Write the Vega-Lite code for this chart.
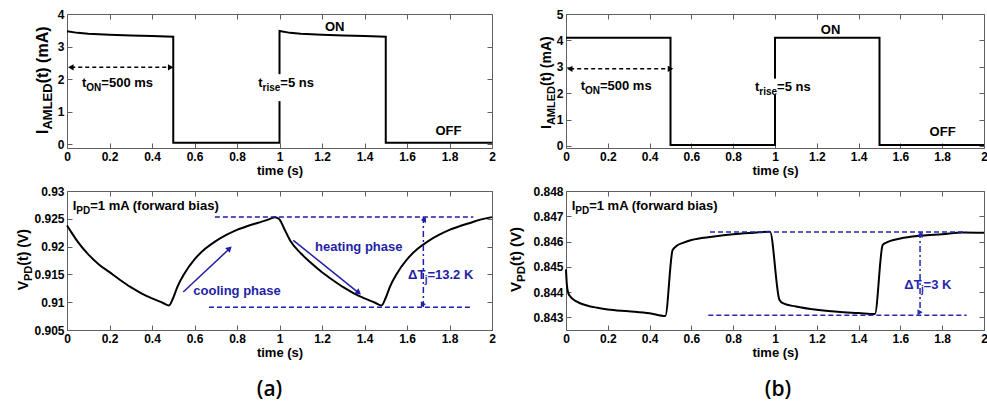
{
  "$schema": "https://vega.github.io/schema/vega-lite/v6.json",
  "background": "white",
  "padding": {"left": 16, "top": 7, "right": 0, "bottom": 0},
  "config": {
    "font": "Liberation Sans",
    "view": {"stroke": "#606060", "strokeWidth": 1},
    "axis": {"grid": false, "domain": false, "tickColor": "#606060", "tickSize": -5, "tickWidth": 1,
      "labelFont": "Liberation Sans", "labelFontSize": 12, "labelFontWeight": "bold", "labelColor": "black",
      "labelPadding": 8, "labelFlush": false, "labelOverlap": false,
      "titleFont": "Liberation Sans", "titleFontSize": 13, "titleFontWeight": "bold", "titleColor": "black", "titlePadding": 2, "format": "~g"}
  },
  "spacing": 11,
  "hconcat": [
    {
      "spacing": 6,
      "vconcat": [
        {
          "width": 425, "height": 134,
          "layer": [
            {"data": {"values": [
              {"k":0,"t":0,"i":3.47},{"k":1,"t":0.05,"i":3.42},{"k":2,"t":0.1,"i":3.39},{"k":3,"t":0.2,"i":3.36},{"k":4,"t":0.3,"i":3.34},{"k":5,"t":0.4,"i":3.32},{"k":6,"t":0.5,"i":3.3},{"k":7,"t":0.5,"i":0.04},{"k":8,"t":1.0,"i":0.04},{"k":9,"t":1.0,"i":3.48},{"k":10,"t":1.05,"i":3.42},{"k":11,"t":1.1,"i":3.39},{"k":12,"t":1.2,"i":3.36},{"k":13,"t":1.3,"i":3.34},{"k":14,"t":1.4,"i":3.32},{"k":15,"t":1.5,"i":3.3},{"k":16,"t":1.5,"i":0.04},{"k":17,"t":2.0,"i":0.04}]},
             "mark": {"type": "line", "color": "black", "strokeWidth": 2},
             "encoding": {
               "x": {"field": "t", "type": "quantitative", "scale": {"domain": [0, 2], "nice": false, "zero": false}, "axis": {"orient": "bottom", "values": [0,0.2,0.4,0.6,0.8,1,1.2,1.4,1.6,1.8,2], "title": "time (s)"}},
               "y": {"field": "i", "type": "quantitative", "scale": {"domain": [-0.12, 4], "nice": false, "zero": false}, "axis": {"orient": "left", "values": [0,1,2,3,4], "title": null}},
               "order": {"field": "k", "type": "quantitative"}
             }},
            {"data": {"values": [{"x": 0.99, "x2": 1.01, "y": 1.32, "y2": 2.15}]},
             "mark": {"type": "rect", "color": "white", "opacity": 1},
             "encoding": {"x": {"field": "x", "type": "quantitative", "axis": null}, "x2": {"field": "x2"}, "y": {"field": "y", "type": "quantitative", "axis": null}, "y2": {"field": "y2"}}},
            {"data": {"values": [{"x": 0.02, "x2": 0.49, "y": 2.36}]},
             "mark": {"type": "rule", "color": "black", "strokeWidth": 1.5, "strokeDash": [4, 3]},
             "encoding": {"x": {"field": "x", "type": "quantitative", "axis": null}, "x2": {"field": "x2"}, "y": {"field": "y", "type": "quantitative", "axis": null}}},
            {"data": {"values": [{"x": 0.018, "y": 2.36, "end": "start"}, {"x": 0.488, "y": 2.36, "end": "end"}]},
             "mark": {"type": "point", "filled": true, "color": "black", "size": 40, "opacity": 1},
             "encoding": {"x": {"field": "x", "type": "quantitative", "axis": null}, "y": {"field": "y", "type": "quantitative", "axis": null},
               "shape": {"field": "end", "type": "nominal", "scale": {"domain": ["start", "end"], "range": ["triangle-left", "triangle-right"]}, "legend": null}}},
            {"data": {"values": [{"x": 0.0706, "y": 1.75, "label": "t"}, {"x": 0.1616, "y": 1.75, "label": "=500 ms"}, {"x": 0.9, "y": 1.75, "label": "t"}, {"x": 1.004, "y": 1.75, "label": "=5 ns"}]},
             "mark": {"type": "text", "align": "left", "baseline": "alphabetic", "fontSize": 13, "fontWeight": "bold", "color": "black"},
             "encoding": {"x": {"field": "x", "type": "quantitative", "axis": {"orient": "top", "values": [0,0.2,0.4,0.6,0.8,1,1.2,1.4,1.6,1.8,2], "labels": false, "title": null}},
               "y": {"field": "y", "type": "quantitative", "axis": {"orient": "right", "values": [0,1,2,3,4], "labels": false, "title": null}},
               "text": {"field": "label", "type": "nominal"}}},
            {"data": {"values": [{"x": 0.091, "y": 1.75, "label": "ON"}, {"x": 0.9204, "y": 1.75, "label": "rise"}]},
             "mark": {"type": "text", "align": "left", "baseline": "alphabetic", "fontSize": 10, "fontWeight": "bold", "color": "black", "dy": 4},
             "encoding": {"x": {"field": "x", "type": "quantitative", "axis": null}, "y": {"field": "y", "type": "quantitative", "axis": null}, "text": {"field": "label", "type": "nominal"}}},
            {"data": {"values": [{"x": 1.26, "y": 3.61, "label": "ON"}, {"x": 1.795, "y": 0.41, "label": "OFF"}]},
             "mark": {"type": "text", "align": "center", "baseline": "middle", "fontSize": 13, "fontWeight": "bold", "color": "black"},
             "encoding": {"x": {"field": "x", "type": "quantitative", "axis": null}, "y": {"field": "y", "type": "quantitative", "axis": null}, "text": {"field": "label", "type": "nominal"}}},
            {"data": {"values": [{"x": -0.0894, "y": 0.31, "label": "I"}, {"x": -0.0894, "y": 1.868, "label": "(t) (mA)"}]},
             "mark": {"type": "text", "align": "left", "baseline": "alphabetic", "angle": 270, "fontSize": 16, "fontWeight": "bold", "color": "black"},
             "encoding": {"x": {"field": "x", "type": "quantitative", "axis": null}, "y": {"field": "y", "type": "quantitative", "axis": null}, "text": {"field": "label", "type": "nominal"}}},
            {"data": {"values": [{"x": -0.0894, "y": 0.447, "label": "AMLED"}]},
             "mark": {"type": "text", "align": "left", "baseline": "alphabetic", "angle": 270, "fontSize": 13, "fontWeight": "bold", "color": "black", "dy": 4},
             "encoding": {"x": {"field": "x", "type": "quantitative", "axis": null}, "y": {"field": "y", "type": "quantitative", "axis": null}, "text": {"field": "label", "type": "nominal"}}}
          ],
          "resolve": {"axis": {"x": "independent", "y": "independent"}}
        },
        {
          "width": 425, "height": 139,
          "title": {"text": "(a)", "orient": "bottom", "anchor": "middle", "frame": "group", "font": "Open Sans", "fontSize": 21, "fontWeight": 600, "color": "black", "offset": 20, "dx": -10},
          "layer": [
            {"data": {"values": [
              {"t":0,"v":0.9238},{"t":0.02,"v":0.9226},{"t":0.05,"v":0.9209},{"t":0.1,"v":0.9186},{"t":0.15,"v":0.9168},{"t":0.2,"v":0.9154},{"t":0.25,"v":0.914},{"t":0.3,"v":0.9127},{"t":0.35,"v":0.9116},{"t":0.4,"v":0.9107},{"t":0.45,"v":0.9099},{"t":0.48,"v":0.9094},
              {"t":0.5,"v":0.9108},{"t":0.52,"v":0.9128},{"t":0.55,"v":0.915},{"t":0.6,"v":0.9177},{"t":0.65,"v":0.9196},{"t":0.7,"v":0.921},{"t":0.75,"v":0.9221},{"t":0.8,"v":0.923},{"t":0.85,"v":0.9237},{"t":0.9,"v":0.9243},{"t":0.95,"v":0.9249},{"t":0.98,"v":0.9253},
              {"t":1.0,"v":0.9249},{"t":1.02,"v":0.9234},{"t":1.05,"v":0.9211},{"t":1.1,"v":0.9188},{"t":1.15,"v":0.917},{"t":1.2,"v":0.9154},{"t":1.25,"v":0.914},{"t":1.3,"v":0.9127},{"t":1.35,"v":0.9116},{"t":1.4,"v":0.9107},{"t":1.45,"v":0.9099},{"t":1.48,"v":0.9094},
              {"t":1.5,"v":0.9108},{"t":1.52,"v":0.9128},{"t":1.55,"v":0.915},{"t":1.6,"v":0.9177},{"t":1.65,"v":0.9196},{"t":1.7,"v":0.921},{"t":1.75,"v":0.9221},{"t":1.8,"v":0.923},{"t":1.85,"v":0.9237},{"t":1.9,"v":0.9243},{"t":1.95,"v":0.9249},{"t":2.0,"v":0.9253}]},
             "mark": {"type": "line", "color": "black", "strokeWidth": 2, "interpolate": "monotone"},
             "encoding": {
               "x": {"field": "t", "type": "quantitative", "scale": {"domain": [0, 2], "nice": false, "zero": false}, "axis": {"orient": "bottom", "values": [0,0.2,0.4,0.6,0.8,1,1.2,1.4,1.6,1.8,2], "title": "time (s)"}},
               "y": {"field": "v", "type": "quantitative", "scale": {"domain": [0.905, 0.93], "nice": false, "zero": false}, "axis": {"orient": "left", "values": [0.905,0.91,0.915,0.92,0.925,0.93], "title": null}}
             }},
            {"data": {"values": [{"x": 0.696, "x2": 1.912, "y": 0.92532}, {"x": 0.668, "x2": 1.896, "y": 0.90908}]},
             "mark": {"type": "rule", "color": "#1f1fa6", "strokeWidth": 1.5, "strokeDash": [5, 3]},
             "encoding": {"x": {"field": "x", "type": "quantitative", "axis": null}, "x2": {"field": "x2"}, "y": {"field": "y", "type": "quantitative", "axis": null}}},
            {"data": {"values": [{"x": 1.677, "y": 0.92532, "y2": 0.90908}]},
             "mark": {"type": "rule", "color": "#1f1fa6", "strokeWidth": 1.5, "strokeDash": [6, 3, 2, 3]},
             "encoding": {"x": {"field": "x", "type": "quantitative", "axis": null}, "y": {"field": "y", "type": "quantitative", "axis": null}, "y2": {"field": "y2"}}},
            {"data": {"values": [{"x": 1.677, "y": 0.92478, "end": "top"}, {"x": 1.677, "y": 0.90962, "end": "bottom"}]},
             "mark": {"type": "point", "filled": true, "color": "#1f1fa6", "size": 35, "opacity": 1},
             "encoding": {"x": {"field": "x", "type": "quantitative", "axis": null}, "y": {"field": "y", "type": "quantitative", "axis": null},
               "shape": {"field": "end", "type": "nominal", "scale": {"domain": ["top", "bottom"], "range": ["triangle-up", "triangle-down"]}, "legend": null}}},
            {"data": {"values": [{"x": 0.547, "y": 0.91183, "x2": 0.768, "y2": 0.91975}, {"x": 1.065, "y": 0.92113, "x2": 1.377, "y2": 0.91155}]},
             "mark": {"type": "rule", "color": "#1f1fa6", "strokeWidth": 1.5},
             "encoding": {"x": {"field": "x", "type": "quantitative", "axis": null}, "y": {"field": "y", "type": "quantitative", "axis": null}, "x2": {"field": "x2"}, "y2": {"field": "y2"}}},
            {"data": {"values": [{"x": 0.765, "y": 0.91968}]},
             "mark": {"type": "point", "shape": "triangle-up", "angle": 46.6, "filled": true, "color": "#1f1fa6", "size": 45, "opacity": 1},
             "encoding": {"x": {"field": "x", "type": "quantitative", "axis": null}, "y": {"field": "y", "type": "quantitative", "axis": null}}},
            {"data": {"values": [{"x": 1.3727, "y": 0.91169}]},
             "mark": {"type": "point", "shape": "triangle-up", "angle": 128.8, "filled": true, "color": "#1f1fa6", "size": 45, "opacity": 1},
             "encoding": {"x": {"field": "x", "type": "quantitative", "axis": null}, "y": {"field": "y", "type": "quantitative", "axis": null}}},
            {"data": {"values": [{"x": 1.373, "y": 0.9199, "label": "heating phase"}, {"x": 0.8, "y": 0.9121, "label": "cooling phase"}]},
             "mark": {"type": "text", "align": "center", "baseline": "middle", "fontSize": 13, "fontWeight": "bold", "color": "#1f1fa6"},
             "encoding": {"x": {"field": "x", "type": "quantitative", "axis": null}, "y": {"field": "y", "type": "quantitative", "axis": null}, "text": {"field": "label", "type": "nominal"}}},
            {"data": {"values": [{"x": 1.605, "y": 0.91412, "label": "ΔT"}, {"x": 1.696, "y": 0.91412, "label": "=13.2 K"}]},
             "mark": {"type": "text", "align": "left", "baseline": "alphabetic", "fontSize": 13, "fontWeight": "bold", "color": "#1f1fa6"},
             "encoding": {"x": {"field": "x", "type": "quantitative", "axis": null}, "y": {"field": "y", "type": "quantitative", "axis": null}, "text": {"field": "label", "type": "nominal"}}},
            {"data": {"values": [{"x": 1.683, "y": 0.91412, "label": "j"}]},
             "mark": {"type": "text", "align": "left", "baseline": "alphabetic", "fontSize": 10, "fontWeight": "bold", "color": "#1f1fa6", "dy": 4},
             "encoding": {"x": {"field": "x", "type": "quantitative", "axis": null}, "y": {"field": "y", "type": "quantitative", "axis": null}, "text": {"field": "label", "type": "nominal"}}},
            {"data": {"values": [{"x": 0.027, "y": 0.92653, "label": "I"}, {"x": 0.1094, "y": 0.92653, "label": "=1 mA (forward bias)"}]},
             "mark": {"type": "text", "align": "left", "baseline": "alphabetic", "fontSize": 13, "fontWeight": "bold", "color": "black"},
             "encoding": {"x": {"field": "x", "type": "quantitative", "axis": {"orient": "top", "values": [0,0.2,0.4,0.6,0.8,1,1.2,1.4,1.6,1.8,2], "labels": false, "title": null}},
               "y": {"field": "y", "type": "quantitative", "axis": {"orient": "right", "values": [0.905,0.91,0.915,0.92,0.925,0.93], "labels": false, "title": null}},
               "text": {"field": "label", "type": "nominal"}}},
            {"data": {"values": [{"x": 0.044, "y": 0.92653, "label": "PD"}]},
             "mark": {"type": "text", "align": "left", "baseline": "alphabetic", "fontSize": 10, "fontWeight": "bold", "color": "black", "dy": 4},
             "encoding": {"x": {"field": "x", "type": "quantitative", "axis": null}, "y": {"field": "y", "type": "quantitative", "axis": null}, "text": {"field": "label", "type": "nominal"}}},
            {"data": {"values": [{"x": -0.185, "y": 0.91214, "label": "V"}, {"x": -0.185, "y": 0.91657, "label": "(t) (V)"}]},
             "mark": {"type": "text", "align": "left", "baseline": "alphabetic", "angle": 270, "fontSize": 14, "fontWeight": "bold", "color": "black"},
             "encoding": {"x": {"field": "x", "type": "quantitative", "axis": null}, "y": {"field": "y", "type": "quantitative", "axis": null}, "text": {"field": "label", "type": "nominal"}}},
            {"data": {"values": [{"x": -0.185, "y": 0.91381, "label": "PD"}]},
             "mark": {"type": "text", "align": "left", "baseline": "alphabetic", "angle": 270, "fontSize": 11, "fontWeight": "bold", "color": "black", "dy": 4},
             "encoding": {"x": {"field": "x", "type": "quantitative", "axis": null}, "y": {"field": "y", "type": "quantitative", "axis": null}, "text": {"field": "label", "type": "nominal"}}}
          ],
          "resolve": {"axis": {"x": "independent", "y": "independent"}}
        }
      ]
    },
    {
      "spacing": 6,
      "vconcat": [
        {
          "width": 418, "height": 134,
          "layer": [
            {"data": {"values": [
              {"k":0,"t":0,"i":4.1},{"k":1,"t":0.5,"i":4.1},{"k":2,"t":0.5,"i":0.03},{"k":3,"t":1.0,"i":0.03},{"k":4,"t":1.0,"i":4.1},{"k":5,"t":1.5,"i":4.1},{"k":6,"t":1.5,"i":0.03},{"k":7,"t":2.0,"i":0.03}]},
             "mark": {"type": "line", "color": "black", "strokeWidth": 2},
             "encoding": {
               "x": {"field": "t", "type": "quantitative", "scale": {"domain": [0, 2], "nice": false, "zero": false}, "axis": {"orient": "bottom", "values": [0,0.2,0.4,0.6,0.8,1,1.2,1.4,1.6,1.8,2], "title": "time (s)"}},
               "y": {"field": "i", "type": "quantitative", "scale": {"domain": [-0.08, 5], "nice": false, "zero": false}, "axis": {"orient": "left", "values": [0,1,2,3,4,5], "title": null}},
               "order": {"field": "k", "type": "quantitative"}
             }},
            {"data": {"values": [{"x": 0.99, "x2": 1.01, "y": 1.95, "y2": 2.55}]},
             "mark": {"type": "rect", "color": "white", "opacity": 1},
             "encoding": {"x": {"field": "x", "type": "quantitative", "axis": null}, "x2": {"field": "x2"}, "y": {"field": "y", "type": "quantitative", "axis": null}, "y2": {"field": "y2"}}},
            {"data": {"values": [{"x": 0.02, "x2": 0.5, "y": 2.92}]},
             "mark": {"type": "rule", "color": "black", "strokeWidth": 1.5, "strokeDash": [4, 3]},
             "encoding": {"x": {"field": "x", "type": "quantitative", "axis": null}, "x2": {"field": "x2"}, "y": {"field": "y", "type": "quantitative", "axis": null}}},
            {"data": {"values": [{"x": 0.018, "y": 2.92, "end": "start"}, {"x": 0.5, "y": 2.92, "end": "end"}]},
             "mark": {"type": "point", "filled": true, "color": "black", "size": 40, "opacity": 1},
             "encoding": {"x": {"field": "x", "type": "quantitative", "axis": null}, "y": {"field": "y", "type": "quantitative", "axis": null},
               "shape": {"field": "end", "type": "nominal", "scale": {"domain": ["start", "end"], "range": ["triangle-left", "triangle-right"]}, "legend": null}}},
            {"data": {"values": [{"x": 0.07, "y": 2.12, "label": "t"}, {"x": 0.1625, "y": 2.12, "label": "=500 ms"}, {"x": 0.904, "y": 2.09, "label": "t"}, {"x": 1.0099, "y": 2.09, "label": "=5 ns"}]},
             "mark": {"type": "text", "align": "left", "baseline": "alphabetic", "fontSize": 13, "fontWeight": "bold", "color": "black"},
             "encoding": {"x": {"field": "x", "type": "quantitative", "axis": {"orient": "top", "values": [0,0.2,0.4,0.6,0.8,1,1.2,1.4,1.6,1.8,2], "labels": false, "title": null}},
               "y": {"field": "y", "type": "quantitative", "axis": {"orient": "right", "values": [0,1,2,3,4,5], "labels": false, "title": null}},
               "text": {"field": "label", "type": "nominal"}}},
            {"data": {"values": [{"x": 0.0907, "y": 2.12, "label": "ON"}, {"x": 0.9247, "y": 2.09, "label": "rise"}]},
             "mark": {"type": "text", "align": "left", "baseline": "alphabetic", "fontSize": 10, "fontWeight": "bold", "color": "black", "dy": 4},
             "encoding": {"x": {"field": "x", "type": "quantitative", "axis": null}, "y": {"field": "y", "type": "quantitative", "axis": null}, "text": {"field": "label", "type": "nominal"}}},
            {"data": {"values": [{"x": 1.266, "y": 4.4, "label": "ON"}, {"x": 1.802, "y": 0.52, "label": "OFF"}]},
             "mark": {"type": "text", "align": "center", "baseline": "middle", "fontSize": 13, "fontWeight": "bold", "color": "black"},
             "encoding": {"x": {"field": "x", "type": "quantitative", "axis": null}, "y": {"field": "y", "type": "quantitative", "axis": null}, "text": {"field": "label", "type": "nominal"}}},
            {"data": {"values": [{"x": -0.072, "y": 0.64, "label": "I"}, {"x": -0.072, "y": 2.27, "label": "(t) (mA)"}]},
             "mark": {"type": "text", "align": "left", "baseline": "alphabetic", "angle": 270, "fontSize": 14, "fontWeight": "bold", "color": "black"},
             "encoding": {"x": {"field": "x", "type": "quantitative", "axis": null}, "y": {"field": "y", "type": "quantitative", "axis": null}, "text": {"field": "label", "type": "nominal"}}},
            {"data": {"values": [{"x": -0.072, "y": 0.788, "label": "AMLED"}]},
             "mark": {"type": "text", "align": "left", "baseline": "alphabetic", "angle": 270, "fontSize": 11, "fontWeight": "bold", "color": "black", "dy": 4},
             "encoding": {"x": {"field": "x", "type": "quantitative", "axis": null}, "y": {"field": "y", "type": "quantitative", "axis": null}, "text": {"field": "label", "type": "nominal"}}}
          ],
          "resolve": {"axis": {"x": "independent", "y": "independent"}}
        },
        {
          "width": 418, "height": 139,
          "title": {"text": "(b)", "orient": "bottom", "anchor": "middle", "frame": "group", "font": "Open Sans", "fontSize": 21, "fontWeight": 600, "color": "black", "offset": 20, "dx": 3},
          "layer": [
            {"data": {"values": [
              {"t":0,"v":0.8449},{"t":0.004,"v":0.8443},{"t":0.011,"v":0.84396},{"t":0.02,"v":0.84383},{"t":0.05,"v":0.84363},{"t":0.1,"v":0.84347},{"t":0.15,"v":0.84338},{"t":0.2,"v":0.84331},{"t":0.3,"v":0.84324},{"t":0.4,"v":0.84316},{"t":0.475,"v":0.84305},
              {"t":0.51,"v":0.84566},{"t":0.53,"v":0.84583},{"t":0.56,"v":0.84595},{"t":0.6,"v":0.84606},{"t":0.7,"v":0.84619},{"t":0.8,"v":0.84629},{"t":0.9,"v":0.84635},{"t":0.976,"v":0.84639},
              {"t":1.021,"v":0.8437},{"t":1.04,"v":0.84355},{"t":1.1,"v":0.84343},{"t":1.2,"v":0.8433},{"t":1.3,"v":0.84322},{"t":1.4,"v":0.84317},{"t":1.478,"v":0.84313},
              {"t":1.515,"v":0.84586},{"t":1.53,"v":0.84595},{"t":1.6,"v":0.84612},{"t":1.7,"v":0.84623},{"t":1.8,"v":0.84629},{"t":1.9,"v":0.84636},{"t":2.0,"v":0.84635}]},
             "mark": {"type": "line", "color": "black", "strokeWidth": 2, "interpolate": "monotone"},
             "encoding": {
               "x": {"field": "t", "type": "quantitative", "scale": {"domain": [0, 2], "nice": false, "zero": false}, "axis": {"orient": "bottom", "values": [0,0.2,0.4,0.6,0.8,1,1.2,1.4,1.6,1.8,2], "title": "time (s)"}},
               "y": {"field": "v", "type": "quantitative", "scale": {"domain": [0.8425, 0.848], "nice": false, "zero": false}, "axis": {"orient": "left", "values": [0.843,0.844,0.845,0.846,0.847,0.848], "title": null}}
             }},
            {"data": {"values": [{"x": 0.689, "x2": 1.917, "y": 0.84638}, {"x": 0.681, "x2": 1.917, "y": 0.84308}]},
             "mark": {"type": "rule", "color": "#2626b0", "strokeWidth": 1.5, "strokeDash": [5, 3]},
             "encoding": {"x": {"field": "x", "type": "quantitative", "axis": null}, "x2": {"field": "x2"}, "y": {"field": "y", "type": "quantitative", "axis": null}}},
            {"data": {"values": [{"x": 1.694, "y": 0.84638, "y2": 0.84308}]},
             "mark": {"type": "rule", "color": "#2626b0", "strokeWidth": 1.5, "strokeDash": [6, 3, 2, 3]},
             "encoding": {"x": {"field": "x", "type": "quantitative", "axis": null}, "y": {"field": "y", "type": "quantitative", "axis": null}, "y2": {"field": "y2"}}},
            {"data": {"values": [{"x": 1.694, "y": 0.84626, "end": "top"}, {"x": 1.694, "y": 0.8432, "end": "bottom"}]},
             "mark": {"type": "point", "filled": true, "color": "#2626b0", "size": 35, "opacity": 1},
             "encoding": {"x": {"field": "x", "type": "quantitative", "axis": null}, "y": {"field": "y", "type": "quantitative", "axis": null},
               "shape": {"field": "end", "type": "nominal", "scale": {"domain": ["top", "bottom"], "range": ["triangle-up", "triangle-down"]}, "legend": null}}},
            {"data": {"values": [{"x": 1.619, "y": 0.84411, "label": "ΔT"}, {"x": 1.711, "y": 0.84411, "label": "=3 K"}]},
             "mark": {"type": "text", "align": "left", "baseline": "alphabetic", "fontSize": 13, "fontWeight": "bold", "color": "#2626b0"},
             "encoding": {"x": {"field": "x", "type": "quantitative", "axis": null}, "y": {"field": "y", "type": "quantitative", "axis": null}, "text": {"field": "label", "type": "nominal"}}},
            {"data": {"values": [{"x": 1.698, "y": 0.84411, "label": "j"}]},
             "mark": {"type": "text", "align": "left", "baseline": "alphabetic", "fontSize": 10, "fontWeight": "bold", "color": "#2626b0", "dy": 4},
             "encoding": {"x": {"field": "x", "type": "quantitative", "axis": null}, "y": {"field": "y", "type": "quantitative", "axis": null}, "text": {"field": "label", "type": "nominal"}}},
            {"data": {"values": [{"x": 0.027, "y": 0.84724, "label": "I"}, {"x": 0.1107, "y": 0.84724, "label": "=1 mA (forward bias)"}]},
             "mark": {"type": "text", "align": "left", "baseline": "alphabetic", "fontSize": 13, "fontWeight": "bold", "color": "black"},
             "encoding": {"x": {"field": "x", "type": "quantitative", "axis": {"orient": "top", "values": [0,0.2,0.4,0.6,0.8,1,1.2,1.4,1.6,1.8,2], "labels": false, "title": null}},
               "y": {"field": "y", "type": "quantitative", "axis": {"orient": "right", "values": [0.843,0.844,0.845,0.846,0.847,0.848], "labels": false, "title": null}},
               "text": {"field": "label", "type": "nominal"}}},
            {"data": {"values": [{"x": 0.0442, "y": 0.84724, "label": "PD"}]},
             "mark": {"type": "text", "align": "left", "baseline": "alphabetic", "fontSize": 10, "fontWeight": "bold", "color": "black", "dy": 4},
             "encoding": {"x": {"field": "x", "type": "quantitative", "axis": null}, "y": {"field": "y", "type": "quantitative", "axis": null}, "text": {"field": "label", "type": "nominal"}}},
            {"data": {"values": [{"x": -0.215, "y": 0.844004, "label": "V"}, {"x": -0.215, "y": 0.84503, "label": "(t) (V)"}]},
             "mark": {"type": "text", "align": "left", "baseline": "alphabetic", "angle": 270, "fontSize": 15, "fontWeight": "bold", "color": "black"},
             "encoding": {"x": {"field": "x", "type": "quantitative", "axis": null}, "y": {"field": "y", "type": "quantitative", "axis": null}, "text": {"field": "label", "type": "nominal"}}},
            {"data": {"values": [{"x": -0.215, "y": 0.8444, "label": "PD"}]},
             "mark": {"type": "text", "align": "left", "baseline": "alphabetic", "angle": 270, "fontSize": 11.5, "fontWeight": "bold", "color": "black", "dy": 4},
             "encoding": {"x": {"field": "x", "type": "quantitative", "axis": null}, "y": {"field": "y", "type": "quantitative", "axis": null}, "text": {"field": "label", "type": "nominal"}}}
          ],
          "resolve": {"axis": {"x": "independent", "y": "independent"}}
        }
      ]
    }
  ]
}
